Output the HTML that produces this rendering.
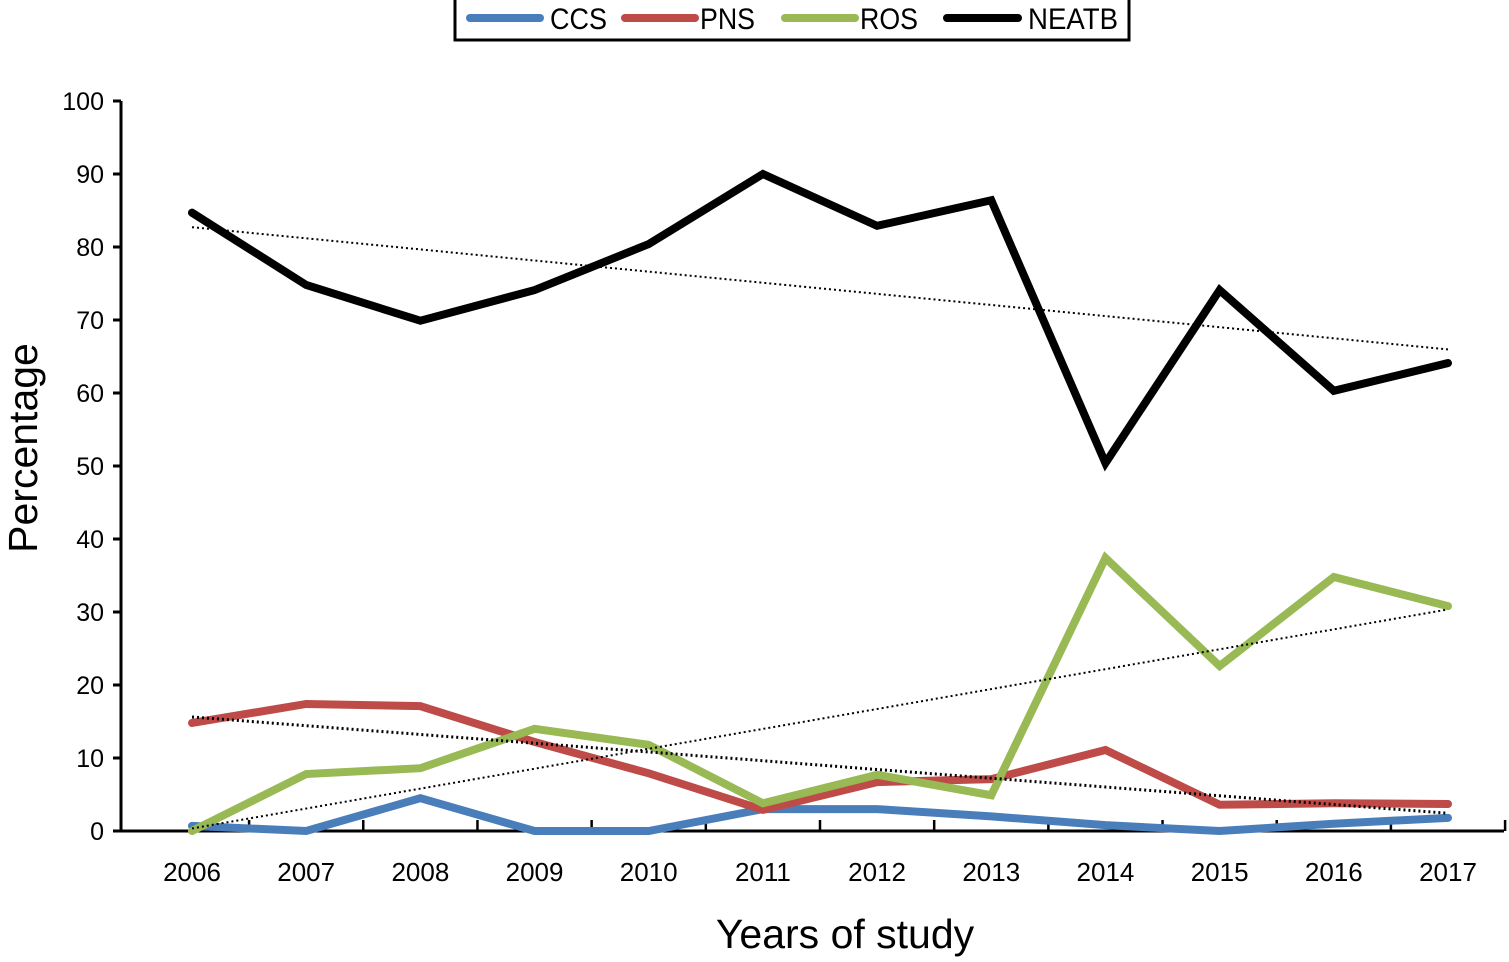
<!DOCTYPE html>
<html><head><meta charset="utf-8"><style>
body{margin:0;background:#fff;}
svg text{font-family:"Liberation Sans",sans-serif;fill:#000;}
</style></head><body>
<svg id="chart" width="1509" height="957" xmlns="http://www.w3.org/2000/svg">
<g>
<rect x="455" y="-2" width="674" height="42" fill="#fff" stroke="#000" stroke-width="3"/>
<line x1="470" y1="18" x2="540" y2="18" stroke="#4a7ebb" stroke-width="8" stroke-linecap="round"/>
<text x="550" y="29" font-size="30" textLength="57" lengthAdjust="spacingAndGlyphs">CCS</text>
<line x1="625" y1="18" x2="695" y2="18" stroke="#be4b48" stroke-width="8" stroke-linecap="round"/>
<text x="700" y="29" font-size="30" textLength="55" lengthAdjust="spacingAndGlyphs">PNS</text>
<line x1="785" y1="18" x2="855" y2="18" stroke="#98b954" stroke-width="8" stroke-linecap="round"/>
<text x="860" y="29" font-size="30" textLength="58" lengthAdjust="spacingAndGlyphs">ROS</text>
<line x1="947" y1="18" x2="1018" y2="18" stroke="#000" stroke-width="8" stroke-linecap="round"/>
<text x="1028" y="29" font-size="30" textLength="90" lengthAdjust="spacingAndGlyphs">NEATB</text>
</g>
<g id="axes"></g>
<g id="marks"></g>
<text transform="translate(37,448) rotate(-90)" text-anchor="middle" font-size="41">Percentage</text>
<text x="845" y="948" text-anchor="middle" font-size="41">Years of study</text>
</svg>
<script>
const years=[2006,2007,2008,2009,2010,2011,2012,2013,2014,2015,2016,2017];
const ccs=[0.7,0,4.5,0,0,3,3,2,0.8,0,1,1.8];
const pns=[14.8,17.4,17.1,12.2,7.9,2.9,6.7,7.1,11.1,3.6,3.8,3.7];
const ros=[0,7.8,8.6,14,11.8,3.8,7.7,4.9,37.4,22.6,34.8,30.8];
const neatb=[84.7,74.8,69.9,74.1,80.4,90,82.9,86.4,50.4,74.1,60.3,64.1];
const yTicks=[0,10,20,30,40,50,60,70,80,90,100];
const NS="http://www.w3.org/2000/svg";
const X=i=>192+i*(1448-192)/11;
const Y=v=>831-v*7.3;
const axes=document.getElementById('axes'),marks=document.getElementById('marks');
function mk(t,a,p){const e=document.createElementNS(NS,t);for(const k in a)e.setAttribute(k,a[k]);p.appendChild(e);return e;}
let e=mk('line',{x1:121,y1:Y(100),x2:121,y2:Y(0)+1.5,stroke:'#000','stroke-width':3},axes);


e=mk('line',{x1:119.5,y1:Y(0),x2:1504,y2:Y(0),stroke:'#000','stroke-width':3},axes);


yTicks.forEach(v=>{
 let t=mk('line',{x1:113,y1:Y(v),x2:121,y2:Y(v),stroke:'#000','stroke-width':3},axes);
 
 
 let l=mk('text',{x:104,y:Y(v)+9,'text-anchor':'end','font-size':25},axes);l.textContent=v;
 
 
});
years.forEach((yr,i)=>{
 let t=mk('line',{x1:X(i)+(X(1)-X(0))/2,y1:Y(0),x2:X(i)+(X(1)-X(0))/2,y2:Y(0)-11,stroke:'#000','stroke-width':2.5},axes);
 
 
 let l=mk('text',{x:X(i),y:881,'text-anchor':'middle','font-size':26},axes);l.textContent=yr;
 
 
});
function trend(vals,w,name){
 const n=vals.length;let sx=0,sy=0,sxy=0,sxx=0;
 vals.forEach((v,i)=>{sx+=i;sy+=v;sxy+=i*v;sxx+=i*i;});
 const b=(n*sxy-sx*sy)/(n*sxx-sx*sx),a=(sy-b*sx)/n;
 let t=mk('line',{x1:X(0),y1:Y(a),x2:X(n-1),y2:Y(a+b*(n-1)),stroke:'#000','stroke-width':w,'stroke-dasharray':'2,3'},marks);
 
 
}
function series(vals,col,name){
 let p=mk('polyline',{points:vals.map((v,i)=>X(i)+','+Y(v)).join(' '),fill:'none',stroke:col,'stroke-width':8,'stroke-linejoin':'miter','stroke-linecap':'round'},marks);
 
 
}
series(ccs,'#4a7ebb','ccs-line');
series(pns,'#be4b48','pns-line');
series(ros,'#98b954','ros-line');
series(neatb,'#000','neatb-line');
trend(neatb,2,'neatb-trendline');
trend(ros,2,'ros-trendline');
trend(pns,3,'pns-trendline');
</script>
</body></html>
